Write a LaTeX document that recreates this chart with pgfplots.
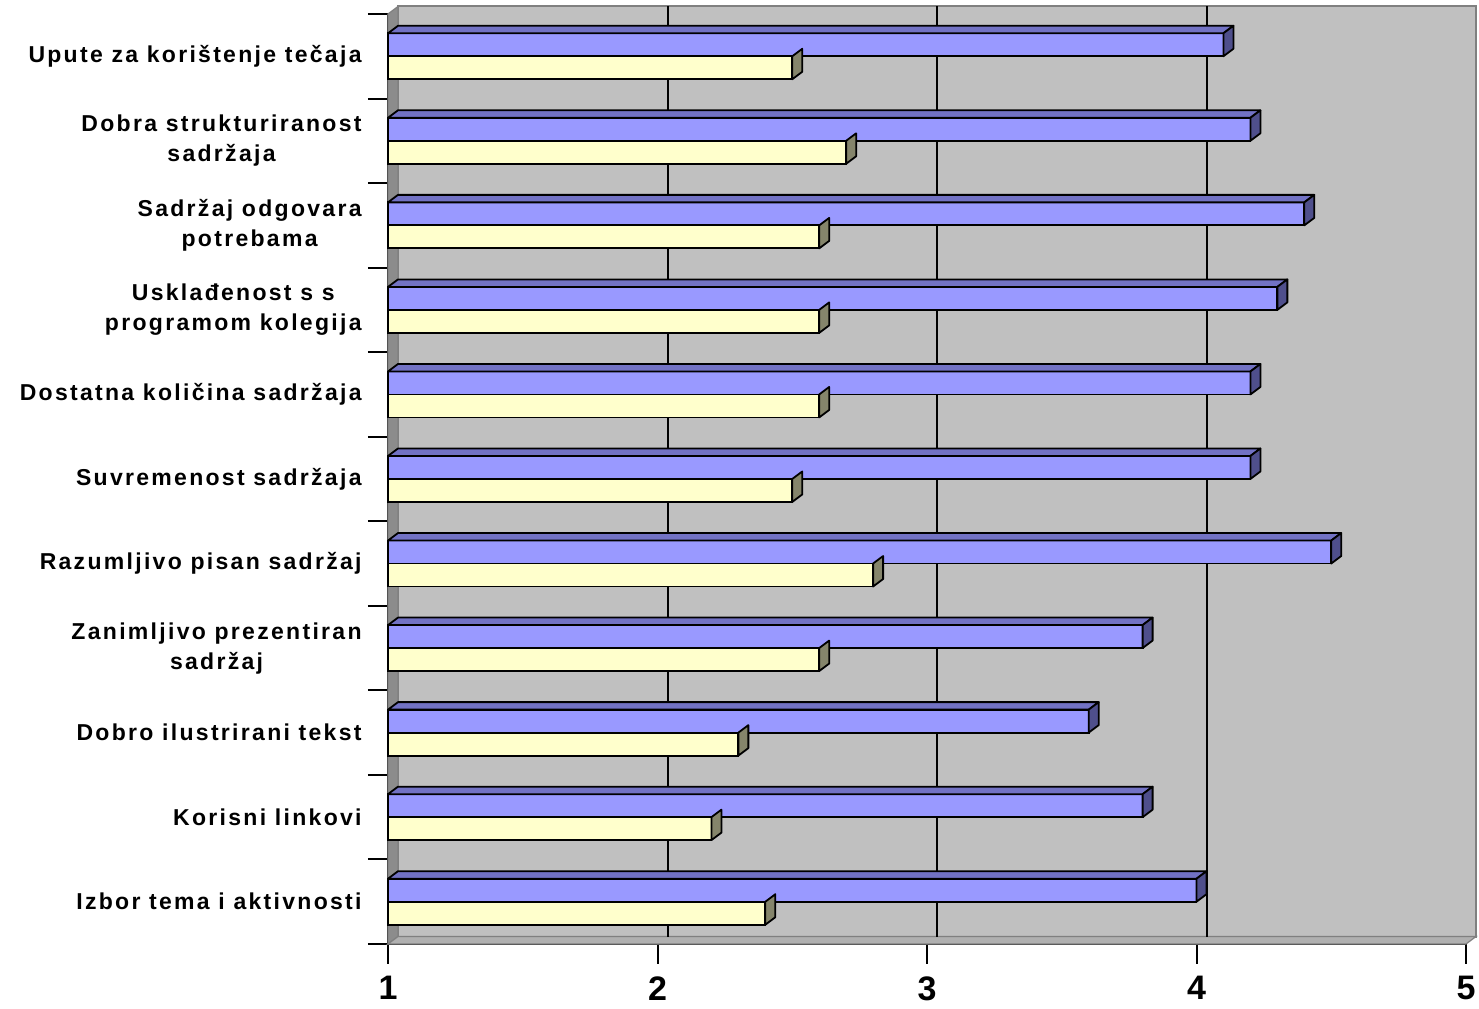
\documentclass[border=0pt]{standalone}
\usepackage{pgfplots}
\pgfplotsset{compat=1.18}
\usepackage{pgfplotstable}
\usepackage{fontspec}
\setmainfont{Liberation Sans}
\newfontfamily\labelfont{Liberation Sans}[LetterSpace=10]

\definecolor{wall}{HTML}{C0C0C0}
\definecolor{walledge}{HTML}{808080}
\definecolor{sidewall}{HTML}{8C8C8C}
\definecolor{floorgray}{HTML}{B0B0B0}
\definecolor{bluefront}{HTML}{9999FF}
\definecolor{bluetop}{HTML}{7272C4}
\definecolor{blueside}{HTML}{4F4F8C}
\definecolor{yelfront}{HTML}{FFFFCC}
\definecolor{yelside}{HTML}{85856B}

% values, bottom category first
\pgfplotstableread{
idx blue yellow
0  4.0 2.4
1  3.8 2.2
2  3.6 2.3
3  3.8 2.6
4  4.5 2.8
5  4.2 2.5
6  4.2 2.6
7  4.3 2.6
8  4.4 2.6
9  4.2 2.7
10 4.1 2.5
}\datatable

% 3d faces of the bars: depth 5pt right, 3.75pt up
\newdimen\barL
\pgfdeclareplotmark{bluebox}{%
  \barL=\bval pt \advance\barL by -1pt \barL=134.75\barL
  \pgfsetfillcolor{bluetop}%
  \pgfpathmoveto{\pgfpoint{-\barL}{11.5pt}}%
  \pgfpathlineto{\pgfpoint{0pt}{11.5pt}}%
  \pgfpathlineto{\pgfpoint{5pt}{15.25pt}}%
  \pgfpathlineto{\pgfpoint{-\barL+5pt}{15.25pt}}%
  \pgfpathclose
  \pgfusepath{fill,stroke}%
  \pgfsetfillcolor{blueside}%
  \pgfpathmoveto{\pgfpoint{0pt}{0pt}}%
  \pgfpathlineto{\pgfpoint{0pt}{11.5pt}}%
  \pgfpathlineto{\pgfpoint{5pt}{15.25pt}}%
  \pgfpathlineto{\pgfpoint{5pt}{3.75pt}}%
  \pgfpathclose
  \pgfusepath{fill,stroke}%
}
\pgfdeclareplotmark{yelbox}{%
  \pgfsetfillcolor{yelside}%
  \pgfpathmoveto{\pgfpoint{0pt}{-11.5pt}}%
  \pgfpathlineto{\pgfpoint{0pt}{0pt}}%
  \pgfpathlineto{\pgfpoint{5pt}{3.75pt}}%
  \pgfpathlineto{\pgfpoint{5pt}{-7.75pt}}%
  \pgfpathclose
  \pgfusepath{fill,stroke}%
}

\begin{document}
\begin{tikzpicture}
\useasboundingbox (0,0) rectangle (739.5pt,504pt);
\begin{axis}[
    at={(194pt,32pt)}, anchor=south west,
    scale only axis, width=539pt, height=465pt,
    xmin=0, xmax=4, ymin=-0.5, ymax=10.5,
    clip=false,
    axis lines*=left,
    axis line style={black, line width=1.3pt},
    tick align=outside,
    major tick length=10pt,
    tick style={black, line width=1pt},
    xtick={0,...,4},
    xticklabels={1,2,3,4,5},
    xticklabel style={anchor=north, inner sep=0pt, yshift=-6pt,
        font=\bfseries\fontsize{17}{20}\selectfont},
    ytick={-0.5,0.5,...,10.5},
    yticklabels={},
    extra y ticks={0,...,10},
    extra y tick labels={Izbor tema i aktivnosti, Korisni linkovi,
        Dobro ilustrirani tekst, {Zanimljivo prezentiran\\sadržaj},
        Razumljivo pisan sadržaj, Suvremenost sadržaja,
        Dostatna količina sadržaja, {Usklađenost s s\\programom kolegija},
        {Sadržaj odgovara\\potrebama}, {Dobra strukturiranost\\sadržaja},
        Upute za korištenje tečaja},
    extra y tick style={major tick length=0pt},
    yticklabel style={anchor=east, inner sep=0pt, xshift=-13pt, align=center,
        font=\labelfont\bfseries\fontsize{11.5}{15}\selectfont},
]
% back wall, side wall, floor
\fill[wall, draw=walledge, line width=1pt]
    ([xshift=5pt,yshift=3.75pt]axis cs:0,-0.5) rectangle ([xshift=5pt,yshift=3.75pt]axis cs:4,10.5);
\fill[sidewall, draw=walledge, line width=0.6pt]
    (axis cs:0,-0.5) -- (axis cs:0,10.5) -- ([xshift=5pt,yshift=3.75pt]axis cs:0,10.5)
    -- ([xshift=5pt,yshift=3.75pt]axis cs:0,-0.5) -- cycle;
\fill[floorgray, draw=walledge, line width=0.6pt]
    (axis cs:0,-0.5) -- (axis cs:4,-0.5) -- ([xshift=5pt,yshift=3.75pt]axis cs:4,-0.5)
    -- ([xshift=5pt,yshift=3.75pt]axis cs:0,-0.5) -- cycle;
\pgfplotsinvokeforeach{1,2,3}{
    \draw[black, line width=1pt]
        ([xshift=5pt,yshift=3.75pt]axis cs:#1,-0.5) -- ([xshift=5pt,yshift=3.75pt]axis cs:#1,10.5);
}

% yellow series (lower bar of each pair)
\addplot[only marks, mark=yelbox, black, line width=0.9pt, line join=round]
    table[x expr=\thisrow{yellow}-1, y=idx] {\datatable};
\addplot[xbar, bar width=11.5pt, bar shift=-5.75pt, fill=yelfront, draw=black,
    line width=0.9pt]
    table[x expr=\thisrow{yellow}-1, y=idx] {\datatable};

% blue series (upper bar of each pair)
\addplot[only marks, mark=bluebox, black, line width=0.9pt, line join=round,
    visualization depends on={\thisrow{blue} \as \bval}]
    table[x expr=\thisrow{blue}-1, y=idx] {\datatable};
\addplot[xbar, bar width=11.5pt, bar shift=5.75pt, fill=bluefront, draw=black,
    line width=0.9pt]
    table[x expr=\thisrow{blue}-1, y=idx] {\datatable};
\end{axis}
\end{tikzpicture}
\end{document}
